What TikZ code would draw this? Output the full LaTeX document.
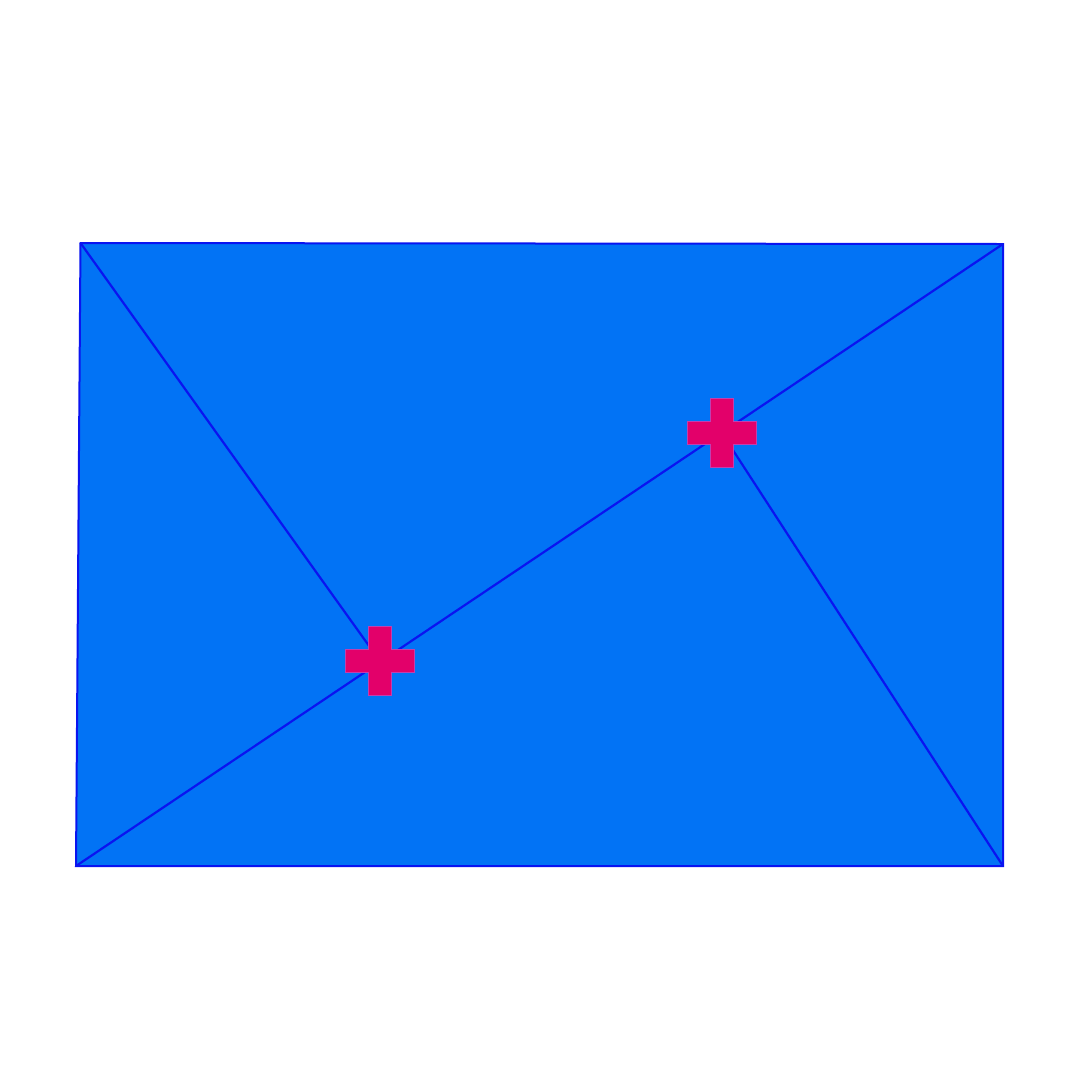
\documentclass[tikz,border=0pt]{standalone}
\definecolor{fillblue}{HTML}{0273F5}
\definecolor{lineblue}{HTML}{0A14F0}
\definecolor{crosspink}{HTML}{E3006A}
\definecolor{crossedge}{HTML}{C040B0}
\tikzset{
  edge/.style={draw=lineblue, line width=2.2pt},
  crossmark/.style={fill=crosspink, draw=crossedge, line width=0.6pt},
}
\newcommand{\crossat}[1]{%
  \path[crossmark] ($(#1)+(-11.5,-34.5)$) -- ++(23,0) -- ++(0,23) -- ++(23,0) -- ++(0,23)
    -- ++(-23,0) -- ++(0,23) -- ++(-23,0) -- ++(0,-23) -- ++(-23,0) -- ++(0,-23) -- ++(23,0) -- cycle;}
\usetikzlibrary{calc}
\begin{document}
\begin{tikzpicture}[x=1pt,y=-1pt]
\useasboundingbox (0,0) rectangle (1080,1080);
\fill[white] (0,0) rectangle (1080,1080);
\coordinate (tl) at (80.5,243);
\coordinate (tr) at (1003,244);
\coordinate (br) at (1003,866);
\coordinate (bl) at (76,866);
\coordinate (c1) at (721.5,432.5);
\coordinate (c2) at (379.5,660.5);
\path[fill=fillblue, draw=lineblue, line width=2pt, line join=miter] (tl) -- (tr) -- (br) -- (bl) -- cycle;
\draw[edge] (tl) -- (c2);
\draw[edge] (bl) -- (tr);
\draw[edge] (c1) -- (br);
\crossat{c1}
\crossat{c2}
\end{tikzpicture}
\end{document}
